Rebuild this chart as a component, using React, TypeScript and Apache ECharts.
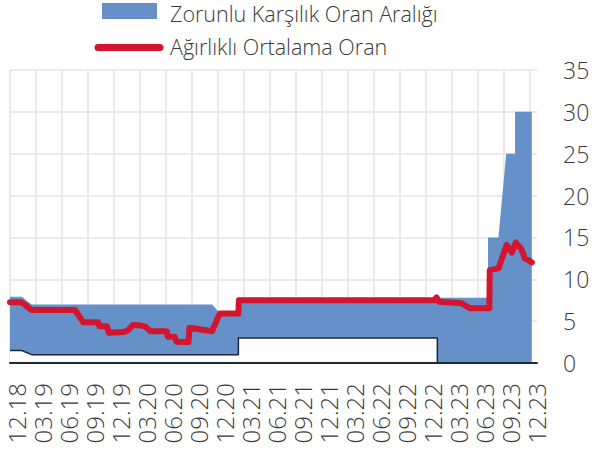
import { useEffect, useRef } from "react";
import * as echarts from "echarts";

// x values: months since Dec 2018
const xTickLabels = [
  "12.18", "03.19", "06.19", "09.19", "12.19", "03.20", "06.20", "09.20", "12.20",
  "03.21", "06.21", "09.21", "12.21", "03.22", "06.22", "09.22", "12.22",
  "03.23", "06.23", "09.23", "12.23",
];

const seriesNames = ["Zorunlu Karşılık Oran Aralığı", "Ağırlıklı Ortalama Oran"];

const upperBound: [number, number][] = [
  [0, 7.9], [1.35, 7.9], [2.5, 7], [23.3, 7], [24.2, 6], [26.35, 6], [26.35, 7.8],
  [55.15, 7.8], [55.15, 15], [56.35, 15], [57.25, 25], [58.27, 25], [58.27, 30], [60.2, 30],
];

const lowerBound: [number, number][] = [
  [0, 1.5], [1.35, 1.5], [2.5, 1], [26.35, 1], [26.35, 3], [49.3, 3], [49.3, 0], [60.2, 0],
];

const weightedAvg: [number, number][] = [
  [0, 7.25], [1.35, 7.25], [2.5, 6.33], [7.5, 6.33], [8.46, 4.86], [10.2, 4.86],
  [10.3, 4.4], [11.2, 4.4], [11.4, 3.6], [13.1, 3.7], [13.6, 3.9], [14.2, 4.55],
  [15.0, 4.5], [15.6, 4.35], [16.2, 3.8], [18.1, 3.8], [18.2, 3.15], [19.0, 3.15],
  [19.2, 2.55], [20.6, 2.5], [20.7, 4.2], [23.3, 3.8], [24.2, 5.9], [26.35, 5.9],
  [26.4, 7.5], [49.0, 7.5], [49.2, 7.85], [49.5, 7.33], [52.1, 7.13], [53.1, 6.53],
  [55.3, 6.53], [55.35, 11.1], [56.35, 11.3], [57.3, 14.1], [57.9, 13.2], [58.35, 14.4],
  [59.0, 13.6], [59.4, 12.5], [59.8, 12.3], [60.2, 12.0],
];

const BLUE = "#6590C8";
const RED = "#D4152F";
const DARK = "#1E2838";
const GRID = "#E3E3E3";
const TEXT = "#3A3A3A";
const FONT = "'Open Sans', sans-serif";

export default function App() {
  const ref = useRef<HTMLDivElement>(null);
  useEffect(() => {
    document.body.style.margin = "0";
    const chart = echarts.init(ref.current!, null, { renderer: "svg" });
    chart.setOption({
      animation: false,
      grid: { left: 10, right: 58, top: 70, bottom: 96 },
      xAxis: [
        {
          type: "value",
          min: 0,
          max: 60.8,
          interval: 3,
          axisLine: { show: false },
          axisTick: { show: false },
          splitLine: { show: true, showMaxLine: false, lineStyle: { color: GRID, width: 1.5 } },
          axisLabel: {
            rotate: 90,
            margin: 20,
            fontSize: 24,
            fontFamily: FONT,
            fontWeight: 300,
            color: TEXT,
            showMaxLabel: false,
            verticalAlign: "top",
            lineHeight: 12,
            formatter: (v: number) => {
              const i = Math.round(v / 3);
              return Math.abs(v - i * 3) < 1e-6 && xTickLabels[i] ? xTickLabels[i] : "";
            },
          },
        },
        {
          type: "value",
          min: 0,
          max: 60.8,
          position: "bottom",
          z: 10,
          axisLine: { show: true, onZero: false, lineStyle: { color: DARK, width: 2 } },
          axisTick: { show: false },
          axisLabel: { show: false },
          splitLine: { show: false },
        },
      ],
      yAxis: {
        type: "value",
        position: "right",
        min: 0,
        max: 35,
        interval: 5,
        axisLine: { show: false },
        axisTick: { show: false },
        splitLine: { show: true, lineStyle: { color: GRID, width: 1.5 } },
        axisLabel: {
          margin: 26,
          fontSize: 23,
          fontFamily: FONT,
          fontWeight: 300,
          color: TEXT,
        },
      },
      graphic: [
        { type: "rect", shape: { x: 102, y: 3, width: 55, height: 16 }, style: { fill: BLUE } },
        {
          type: "text",
          x: 170,
          y: 13,
          style: {
            text: seriesNames[0],
            font: `300 21.5px ${FONT}`,
            lineHeight: 22,
            fill: TEXT,
            verticalAlign: "middle",
          },
        },
        {
          type: "line",
          shape: { x1: 98, y1: 47.5, x2: 160, y2: 47.5 },
          style: { stroke: RED, lineWidth: 7, lineCap: "round" },
        },
        {
          type: "text",
          x: 170,
          y: 46,
          style: {
            text: seriesNames[1],
            font: `300 21.5px ${FONT}`,
            lineHeight: 22,
            fill: TEXT,
            verticalAlign: "middle",
          },
        },
      ],
      series: [
        {
          name: "upper",
          type: "line",
          data: upperBound,
          symbol: "none",
          lineStyle: { width: 0 },
          areaStyle: { color: BLUE, opacity: 1 },
          z: 2,
        },
        {
          name: "lower",
          type: "line",
          data: lowerBound,
          symbol: "none",
          lineStyle: { width: 1.5, color: DARK },
          areaStyle: { color: "#FFFFFF", opacity: 1 },
          z: 3,
        },
        {
          name: seriesNames[1],
          type: "line",
          data: weightedAvg,
          symbol: "none",
          lineStyle: { width: 6, color: RED, cap: "round", join: "round" },
          z: 4,
        },
      ],
    });
    return () => chart.dispose();
  }, []);
  return <div ref={ref} style={{ width: 595, height: 459 }} />;
}
